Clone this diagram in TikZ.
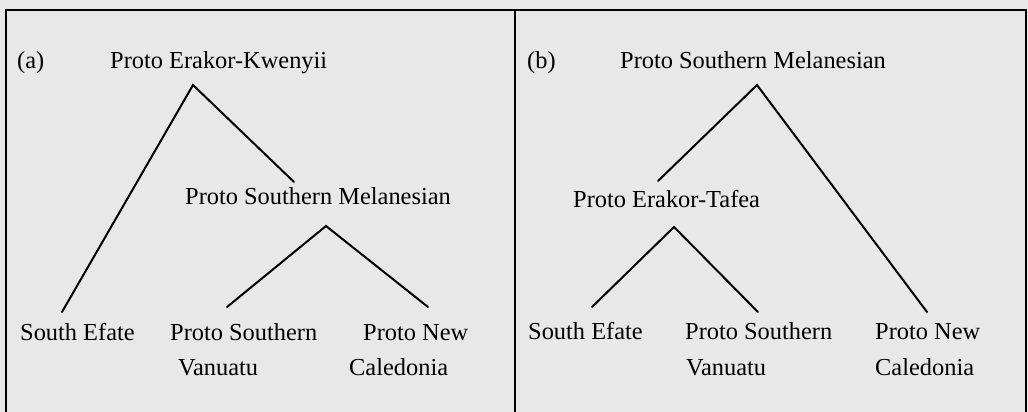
\documentclass[tikz,border=0pt]{standalone}
\usepackage{fontspec}
\setmainfont{Liberation Serif}
\definecolor{paper}{RGB}{232,232,232}
\begin{document}
\begin{tikzpicture}[x=1pt,y=-1pt,
  lbl/.style={anchor=base west,inner sep=0pt,font=\fontsize{24.4}{29}\selectfont},
  branch/.style={line width=2pt,line cap=round},
  frame/.style={line width=2.6pt}]
\fill[paper] (0,0) rectangle (1028,412);
\useasboundingbox (0,0) rectangle (1028,412);
\draw[frame] (6,414) -- (6,10) -- (1026,10) -- (1026,414);
\draw[frame] (515,10) -- (515,414);
% panel a
\node[lbl] (la) at (17,69) {(a)};
\node[lbl] (pek) at (110,69) {Proto Erakor-Kwenyii};
\node[lbl] (psma) at (185,204) {Proto Southern Melanesian};
\node[lbl] (sea) at (20,340) {South Efate};
\node[lbl] (psva) at (170,340) {Proto Southern};
\node[lbl] (psva2) at (178,375) {Vanuatu};
\node[lbl] (pnca) at (363,340) {Proto New};
\node[lbl] (pnca2) at (349,375) {Caledonia};
\coordinate (a1) at (193,85);
\coordinate (a1r) at (294,182);
\coordinate (a1l) at (62,312);
\coordinate (a2) at (326,226);
\coordinate (a2l) at (227,307);
\coordinate (a2r) at (428,307);
\draw[branch] (a1l) -- (a1) -- (a1r);
\draw[branch] (a2l) -- (a2) -- (a2r);
% panel b
\node[lbl] (lb) at (527,69) {(b)};
\node[lbl] (psmb) at (620,69) {Proto Southern Melanesian};
\node[lbl] (pet) at (573,207) {Proto Erakor-Tafea};
\node[lbl] (seb) at (528,339) {South Efate};
\node[lbl] (psvb) at (685,339) {Proto Southern};
\node[lbl] (psvb2) at (686,375) {Vanuatu};
\node[lbl] (pncb) at (875,339) {Proto New};
\node[lbl] (pncb2) at (875,375) {Caledonia};
\coordinate (b1) at (757,85);
\coordinate (b1l) at (658,181);
\coordinate (b1r) at (927,312);
\coordinate (b2) at (674,227);
\coordinate (b2l) at (592,307);
\coordinate (b2r) at (758,312);
\draw[branch] (b1l) -- (b1) -- (b1r);
\draw[branch] (b2l) -- (b2) -- (b2r);
\end{tikzpicture}
\end{document}
